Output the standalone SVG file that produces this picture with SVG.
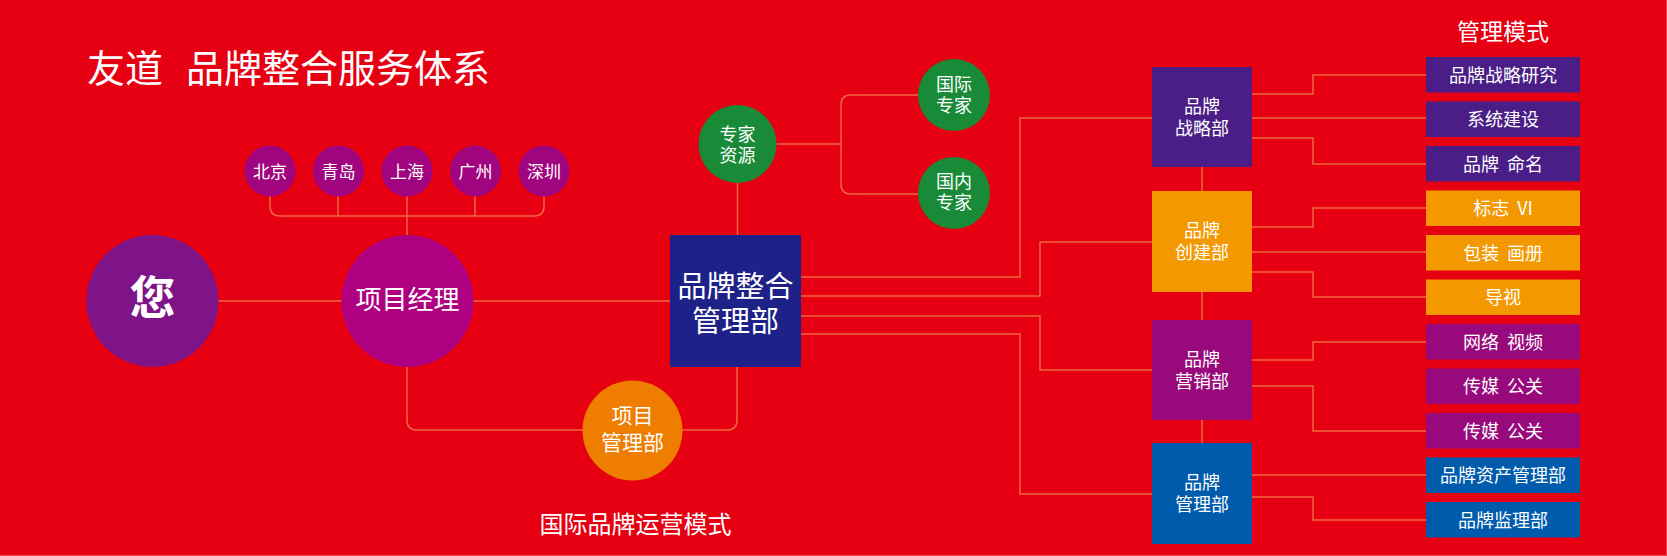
<svg xmlns="http://www.w3.org/2000/svg" width="1667" height="556" viewBox="0 0 1667 556">
<style>
text{font-family:"Noto Sans CJK SC","Noto Sans",sans-serif;fill:#fff;text-anchor:middle}
.ln{fill:none;stroke:#F2673C;stroke-width:1.5}
.city{fill:#A1047F}
.grn{fill:#188A38}
.pur{fill:#4B1E87}
.org{fill:#F39800}
.mag{fill:#980A7C}
.blu{fill:#005BAC}
.c17{font-size:17px}
.c18{font-size:18px}
.pre{white-space:pre}
</style>
<rect x="0" y="0" width="1667" height="556" fill="#E60012"/>
<path d="M0,555.5 H1666.5 V0" fill="none" stroke="#F0454C" stroke-width="1"/>

<text x="87" y="82" style="font-size:38px;text-anchor:start"><tspan x="87">友道</tspan><tspan x="186">品牌整合服务体系</tspan></text>
<text x="1503" y="40" style="font-size:23px">管理模式</text>
<text x="635.5" y="533" style="font-size:24px">国际品牌运营模式</text>

<g id="connectors">
<path class="ln" d="M270,196 V206 Q270,216 280,216 H534 Q544,216 544,206 V196"/>
<path class="ln" d="M338,196 V216 M475,196 V216 M407,196 V235"/>
<path class="ln" d="M218,301 H342 M473,301 H670"/>
<path class="ln" d="M407,367 V420 Q407,430 417,430 H583"/>
<path class="ln" d="M682,430 H727 Q737,430 737,420 V367"/>
<path class="ln" d="M737.5,183 V235"/>
<path class="ln" d="M777,144 H841"/>
<path class="ln" d="M918,95 H851 Q841,95 841,105 V184 Q841,194 851,194 H918"/>
<path class="ln" d="M801,277 H1020 V118 H1152"/>
<path class="ln" d="M801,296 H1040 V242 H1152"/>
<path class="ln" d="M801,316 H1040 V370 H1152"/>
<path class="ln" d="M801,334 H1020 V494 H1152"/>
<path class="ln" d="M1202,167 V191 M1202,292 V320 M1202,420 V443"/>
<path class="ln" d="M1252,94 H1313 V75 H1426"/>
<path class="ln" d="M1252,118 H1426"/>
<path class="ln" d="M1252,138 H1313 V164 H1426"/>
<path class="ln" d="M1252,227 H1313 V208 H1426"/>
<path class="ln" d="M1252,252 H1426"/>
<path class="ln" d="M1252,272 H1313 V297 H1426"/>
<path class="ln" d="M1252,360 H1313 V342 H1426"/>
<path class="ln" d="M1252,386 H1313 V431 H1426"/>
<path class="ln" d="M1252,475 H1426"/>
<path class="ln" d="M1252,497 H1313 V520 H1426"/>
</g>

<g id="n-beijing"><circle class="city" cx="270" cy="171" r="25.5"/><text class="c17" x="270" y="177.5">北京</text></g>
<g id="n-qingdao"><circle class="city" cx="338.5" cy="171" r="25.5"/><text class="c17" x="338.5" y="177.5">青岛</text></g>
<g id="n-shanghai"><circle class="city" cx="407" cy="171" r="25.5"/><text class="c17" x="407" y="177.5">上海</text></g>
<g id="n-guangzhou"><circle class="city" cx="475.5" cy="171" r="25.5"/><text class="c17" x="475.5" y="177.5">广州</text></g>
<g id="n-shenzhen"><circle class="city" cx="544" cy="171" r="25.5"/><text class="c17" x="544" y="177.5">深圳</text></g>

<g id="n-nin"><circle cx="152.5" cy="301" r="66" fill="#7E1488"/><text x="152.5" y="314" style="font-size:46px;font-weight:bold">您</text></g>
<g id="n-pm"><circle cx="407.5" cy="301" r="66" fill="#AE0080"/><text x="407.5" y="308.5" style="font-size:26px">项目经理</text></g>
<g id="n-pmd"><circle cx="632.5" cy="430.5" r="50" fill="#EF7D00"/><text x="632.5" y="423" style="font-size:21px">项目</text><text x="632.5" y="450" style="font-size:21px">管理部</text></g>
<g id="n-core"><rect x="670" y="235" width="131" height="132" fill="#1D2188"/><text x="735.5" y="297" style="font-size:29px">品牌整合</text><text x="735.5" y="332" style="font-size:29px">管理部</text></g>
<g id="n-expert"><circle class="grn" cx="737.5" cy="144" r="39"/><text class="c18" x="737.5" y="141">专家</text><text class="c18" x="737.5" y="161.5">资源</text></g>
<g id="n-intl"><circle class="grn" cx="954" cy="95" r="36"/><text class="c18" x="954" y="91">国际</text><text class="c18" x="954" y="112">专家</text></g>
<g id="n-dom"><circle class="grn" cx="954" cy="193" r="36"/><text class="c18" x="954" y="187.5">国内</text><text class="c18" x="954" y="208.5">专家</text></g>

<g id="d-strategy"><rect class="pur" x="1152" y="67" width="100" height="100"/><text class="c18" x="1202" y="112.5">品牌</text><text class="c18" x="1202" y="134.5">战略部</text></g>
<g id="d-create"><rect class="org" x="1152" y="191" width="100" height="101"/><text class="c18" x="1202" y="237">品牌</text><text class="c18" x="1202" y="259">创建部</text></g>
<g id="d-market"><rect class="mag" x="1152" y="320" width="100" height="100"/><text class="c18" x="1202" y="365.5">品牌</text><text class="c18" x="1202" y="387.5">营销部</text></g>
<g id="d-manage"><rect class="blu" x="1152" y="443" width="100" height="101"/><text class="c18" x="1202" y="489">品牌</text><text class="c18" x="1202" y="511">管理部</text></g>

<g id="r1"><rect class="pur" x="1426" y="57" width="154" height="35.5"/><text class="c18" x="1503" y="81.5">品牌战略研究</text></g>
<g id="r2"><rect class="pur" x="1426" y="101.5" width="154" height="35.5"/><text class="c18" x="1503" y="126">系统建设</text></g>
<g id="r3"><rect class="pur" x="1426" y="146" width="154" height="35.5"/><text class="c18 pre" x="1503" y="170.5">品牌  命名</text></g>
<g id="r4"><rect class="org" x="1426" y="190.5" width="154" height="35.5"/><text class="c18 pre" x="1503" y="215">标志  VI</text></g>
<g id="r5"><rect class="org" x="1426" y="235" width="154" height="35.5"/><text class="c18 pre" x="1503" y="259.5">包装  画册</text></g>
<g id="r6"><rect class="org" x="1426" y="279.5" width="154" height="35.5"/><text class="c18" x="1503" y="304">导视</text></g>
<g id="r7"><rect class="mag" x="1426" y="324" width="154" height="35.5"/><text class="c18 pre" x="1503" y="348.5">网络  视频</text></g>
<g id="r8"><rect class="mag" x="1426" y="368.5" width="154" height="35.5"/><text class="c18 pre" x="1503" y="393">传媒  公关</text></g>
<g id="r9"><rect class="mag" x="1426" y="413" width="154" height="35.5"/><text class="c18 pre" x="1503" y="437.5">传媒  公关</text></g>
<g id="r10"><rect class="blu" x="1426" y="457.5" width="154" height="35.5"/><text class="c18" x="1503" y="482">品牌资产管理部</text></g>
<g id="r11"><rect class="blu" x="1426" y="502" width="154" height="35.5"/><text class="c18" x="1503" y="526.5">品牌监理部</text></g>
</svg>
